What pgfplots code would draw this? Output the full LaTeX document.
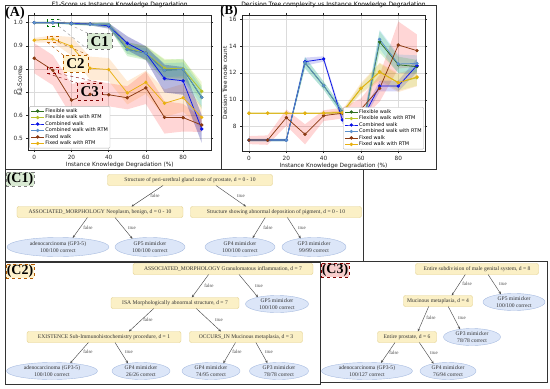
\documentclass[border=0pt]{standalone}
\usepackage{fontspec}
\setmainfont{Liberation Serif}
\newfontfamily\plotfont{DejaVu Sans}
\usepackage{pgfplots}
\pgfplotsset{compat=1.18}
\usetikzlibrary{shapes.geometric,arrows.meta}
\definecolor{flexg}{HTML}{2E6E1E}
\definecolor{flexr}{HTML}{B8C22A}
\definecolor{comb}{HTML}{0A14E6}
\definecolor{combr}{HTML}{5A8FCB}
\definecolor{fixw}{HTML}{8B3A12}
\definecolor{fixr}{HTML}{E8B010}
\definecolor{nodefill}{HTML}{FBF0C6}
\definecolor{nodedraw}{HTML}{E2CF8A}
\definecolor{leaffill}{HTML}{DCE6F8}
\definecolor{leafdraw}{HTML}{A8BCE0}
\definecolor{conefill}{HTML}{D9EAD3}
\definecolor{ctwofill}{HTML}{FFF2CC}
\definecolor{cthreefill}{HTML}{F8CECC}
\pgfplotsset{
  panel/.style={
    scale only axis, anchor=south west,
    xtick={0,20,40,60,80},
    grid=major, grid style={black!14, line width=0.4bp},
    axis line style={black!85, line width=0.5bp},
    tick align=outside, major tick length=2bp, tick style={black!85, line width=0.4bp},
    ticklabel style={font=\plotfont\fontsize{5.8}{6}\selectfont, text=black!85},
    /pgf/number format/assume math mode=true,
    label style={font=\plotfont\fontsize{5.8}{6}\selectfont, text=black!90},
    title style={font=\plotfont\fontsize{6}{7}\selectfont, at={(axis description cs:0.5,1)}, anchor=south, yshift=0.3bp, inner sep=1bp},
    legend style={font=\plotfont\fontsize{5}{5.5}\selectfont, draw=black!30, fill=white, rounded corners=1bp, row sep=-0.6bp, inner sep=1.2bp, nodes={inner sep=0.9bp}},
    legend cell align=left,
    legend image code/.code={\draw[mark repeat=2,mark phase=2,##1] plot coordinates {(0bp,0bp)(6.5bp,0bp)(13bp,0bp)};},
    every axis plot/.append style={line width=0.75bp},
  },
  ln/.style={#1, mark=*, mark size=1.3bp, mark options={solid, fill=#1, draw=#1}},
  bd/.style={draw=none, fill=#1, fill opacity=0.16, forget plot},
}
\tikzset{
 tn/.style={draw=nodedraw, fill=nodefill, rounded corners=2bp, line width=0.4bp, inner sep=0.5bp, minimum height=11bp, font=\fontsize{5.6}{6.2}\selectfont, text=black!80},
 lf/.style={ellipse, draw=leafdraw, fill=leaffill, line width=0.4bp, inner sep=0bp, minimum height=17bp, align=center, font=\fontsize{5.6}{6.2}\selectfont, text=black!80},
 ed/.style={draw=black!70, line width=0.45bp, -{Stealth[length=2.8bp,width=2.4bp]}},
 el/.style={font=\fontsize{5}{5.5}\selectfont, text=black!70, inner sep=0pt},
 plab/.style={font=\bfseries\fontsize{14}{14}\selectfont, inner sep=0.8bp},
}
\begin{document}
\begin{tikzpicture}[x=1bp,y=1bp]
% ---------------- Panel A ----------------
\begin{axis}[panel, at={(28.3bp,238bp)}, width=182.7bp, height=135bp,
  xmin=-3.2, xmax=95, ymin=0.449, ymax=1.033,
  ytick={0.5,0.6,0.7,0.8,0.9,1.0},
  yticklabel style={/pgf/number format/.cd, fixed, fixed zerofill, precision=1},
  title={F1-Score vs Instance Knowledge Degradation},
  xlabel={Instance Knowledge Degradation (\%)},
  ylabel={F1-Score},
  xlabel style={at={(axis description cs:0.5,-0.111)}, anchor=center},
  ylabel style={at={(axis description cs:-0.047,0.5)}, anchor=center},
  legend style={at={(axis description cs:0.006,0.012)}, anchor=south west},
]
\addplot[bd=red] coordinates {(0,0.911)(10,0.859)(20,0.735)(30,0.75)(40,0.738)(50,0.725)(60,0.788)(70,0.66)(80,0.649)(90,0.587)(90,0.527)(80,0.529)(70,0.52)(60,0.648)(50,0.625)(40,0.638)(30,0.63)(20,0.595)(10,0.729)(0,0.781)} -- cycle;
\addplot[bd=orange] coordinates {(0,0.934)(10,0.944)(20,0.938)(30,0.853)(40,0.847)(50,0.746)(60,0.792)(70,0.711)(80,0.735)(90,0.64)(90,0.54)(80,0.615)(70,0.591)(60,0.692)(50,0.646)(40,0.747)(30,0.753)(20,0.858)(10,0.914)(0,0.914)} -- cycle;
\addplot[bd=green!70!black] coordinates {(0,1.004)(10,1.004)(20,1.0)(30,0.999)(40,1.0)(50,0.915)(60,0.898)(70,0.839)(80,0.843)(90,0.727)(90,0.627)(80,0.753)(70,0.749)(60,0.838)(50,0.855)(40,0.98)(30,0.987)(20,0.99)(10,0.996)(0,0.996)} -- cycle;
\addplot[bd=lime!80!black] coordinates {(0,1.003)(10,1.003)(20,1.001)(30,0.999)(40,1.0)(50,0.915)(60,0.9)(70,0.843)(80,0.84)(90,0.743)(90,0.663)(80,0.76)(70,0.763)(60,0.84)(50,0.865)(40,0.98)(30,0.989)(20,0.993)(10,0.997)(0,0.997)} -- cycle;
\addplot[draw=none, fill=blue!55!black, fill opacity=0.28, forget plot] coordinates {(0,1.003)(10,1.003)(20,1.001)(30,1.0)(40,0.998)(50,0.941)(60,0.898)(70,0.818)(80,0.808)(90,0.60)(90,0.48)(80,0.688)(70,0.698)(60,0.838)(50,0.881)(40,0.974)(30,0.988)(20,0.993)(10,0.997)(0,0.997)} -- cycle;
\addplot[bd=cyan!80!blue] coordinates {(0,1.003)(10,1.003)(20,0.999)(30,0.999)(40,1.0)(50,0.905)(60,0.888)(70,0.824)(80,0.828)(90,0.717)(90,0.637)(80,0.768)(70,0.764)(60,0.848)(50,0.865)(40,0.98)(30,0.987)(20,0.991)(10,0.997)(0,0.997)} -- cycle;
\addplot[ln=flexg] coordinates {(0,1.0)(10,1.0)(20,0.995)(30,0.993)(40,0.99)(50,0.885)(60,0.868)(70,0.794)(80,0.798)(90,0.677)};
\addlegendentry{Flexible walk}
\addplot[ln=flexr] coordinates {(0,1.0)(10,1.0)(20,0.997)(30,0.994)(40,0.99)(50,0.89)(60,0.87)(70,0.803)(80,0.80)(90,0.703)};
\addlegendentry{Flexible walk with RTM}
\addplot[ln=comb] coordinates {(0,1.0)(10,1.0)(20,0.997)(30,0.994)(40,0.986)(50,0.911)(60,0.868)(70,0.758)(80,0.748)(90,0.54)};
\addlegendentry{Combined walk}
\addplot[ln=combr] coordinates {(0,1.0)(10,1.0)(20,0.995)(30,0.993)(40,0.99)(50,0.885)(60,0.868)(70,0.794)(80,0.798)(90,0.677)};
\addlegendentry{Combined walk with RTM}
\addplot[ln=fixw] coordinates {(0,0.846)(10,0.794)(20,0.665)(30,0.69)(40,0.688)(50,0.675)(60,0.718)(70,0.59)(80,0.589)(90,0.557)};
\addlegendentry{Fixed walk}
\addplot[ln=fixr] coordinates {(0,0.924)(10,0.929)(20,0.898)(30,0.803)(40,0.797)(50,0.696)(60,0.742)(70,0.651)(80,0.675)(90,0.59)};
\addlegendentry{Fixed walk with RTM}
% annotations
\draw[dashed, draw=green!45!black, line width=0.4bp] (axis cs:7,1.015) rectangle (axis cs:13,0.985);
\draw[dashed, draw=black!45, line width=0.4bp] (axis cs:13,1.015) -- (axis cs:28.5,0.955);
\draw[dashed, draw=black!45, line width=0.4bp] (axis cs:13,0.985) -- (axis cs:28.5,0.886);
\draw[dashed, draw=black!55, fill=conefill, line width=0.4bp] (axis cs:28.5,0.955) rectangle (axis cs:42,0.886);
\node[font=\bfseries\fontsize{15}{15}\selectfont] at (axis cs:35.2,0.919) {C1};
\draw[dashed, draw=orange!80!black, line width=0.4bp] (axis cs:7,0.943) rectangle (axis cs:13,0.915);
\draw[dashed, draw=orange!70!black, line width=0.4bp] (axis cs:7,0.915) -- (axis cs:15.5,0.86);
\draw[dashed, draw=orange!70!black, line width=0.4bp] (axis cs:13,0.915) -- (axis cs:29,0.86);
\draw[dashed, draw=orange!70!black, fill=ctwofill, line width=0.4bp] (axis cs:15.5,0.86) rectangle (axis cs:29,0.787);
\node[font=\bfseries\fontsize{15}{15}\selectfont] at (axis cs:22.2,0.822) {C2};
\draw[dashed, draw=red!60!black, line width=0.4bp] (axis cs:7,0.808) rectangle (axis cs:13,0.78);
\draw[dashed, draw=red!50!black, line width=0.4bp] (axis cs:7,0.78) -- (axis cs:23,0.739);
\draw[dashed, draw=red!50!black, line width=0.4bp] (axis cs:13,0.78) -- (axis cs:36.6,0.739);
\draw[dashed, draw=red!50!black, fill=cthreefill, line width=0.4bp] (axis cs:23,0.739) rectangle (axis cs:36.6,0.665);
\node[font=\bfseries\fontsize{15}{15}\selectfont] at (axis cs:29.8,0.701) {C3};
\end{axis}
% ---------------- Panel B ----------------
\begin{axis}[panel, at={(242bp,237bp)}, width=183bp, height=136bp,
  xmin=-3.75, xmax=94.3, ymin=6.19, ymax=16.3,
  ytick={8,10,12,14,16},
  title={Decision Tree complexity vs Instance Knowledge Degradation},
  xlabel={Instance Knowledge Degradation (\%)},
  ylabel={Decision Tree node count},
  xlabel style={at={(axis description cs:0.5,-0.11)}, anchor=center},
  ylabel style={at={(axis description cs:-0.093,0.5)}, anchor=center},
  legend style={at={(axis description cs:0.994,0.012)}, anchor=south east},
]
\addplot[bd=red] coordinates {(0,7.3)(10,7.35)(20,9.27)(30,8.18)(40,9.22)(50,9.4)(60,10.1)(70,11.85)(80,15.82)(90,14.85)(90,12.45)(80,12.32)(70,9.85)(60,8.5)(50,8.6)(40,8.42)(30,6.68)(20,8.07)(10,6.65)(0,6.7)} -- cycle;
\addplot[bd=orange] coordinates {(0,9.05)(10,9.05)(20,9.05)(30,9.05)(40,9.05)(50,9.25)(60,11.25)(70,12.75)(80,11.97)(90,12.4)(90,11.0)(80,10.57)(70,11.35)(60,10.45)(50,8.85)(40,8.95)(30,8.95)(20,8.95)(10,8.95)(0,8.95)} -- cycle;
\addplot[bd=green!70!black] coordinates {(0,7.1)(10,7.1)(20,7.1)(30,13.15)(40,11.35)(50,9.4)(60,7.65)(70,15.1)(80,13.2)(90,12.96)(90,11.96)(80,12.0)(70,13.5)(60,7.05)(50,8.8)(40,10.75)(30,12.35)(20,6.9)(10,6.9)(0,6.9)} -- cycle;
\addplot[bd=lime!80!black] coordinates {(0,9.05)(10,9.05)(20,9.05)(30,9.05)(40,9.05)(50,9.15)(60,11.13)(70,12.69)(80,11.87)(90,12.24)(90,11.04)(80,10.67)(70,11.49)(60,10.53)(50,8.95)(40,8.95)(30,8.95)(20,8.95)(10,8.95)(0,8.95)} -- cycle;
\addplot[bd=blue!80!black] coordinates {(0,7.1)(10,7.1)(20,7.1)(30,13.13)(40,13.23)(50,8.8)(60,8.7)(70,11.42)(80,11.42)(90,13.05)(90,12.05)(80,10.62)(70,10.62)(60,8.1)(50,8.2)(40,12.83)(30,12.53)(20,6.9)(10,6.9)(0,6.9)} -- cycle;
\addplot[bd=cyan!80!blue] coordinates {(0,7.1)(10,7.1)(20,7.1)(30,13.2)(40,11.35)(50,9.4)(60,7.65)(70,15.19)(80,13.36)(90,13.3)(90,12.1)(80,11.96)(70,13.79)(60,7.05)(50,8.8)(40,10.75)(30,12.3)(20,6.9)(10,6.9)(0,6.9)} -- cycle;
\addplot[ln=flexg] coordinates {(0,7)(10,7)(20,7)(30,12.75)(40,11.05)(50,9.1)(60,7.35)(70,14.3)(80,12.6)(90,12.46)};
\addlegendentry{Flexible walk}
\addplot[ln=flexr] coordinates {(0,9)(10,9)(20,9)(30,9)(40,9)(50,9.05)(60,10.83)(70,12.09)(80,11.27)(90,11.64)};
\addlegendentry{Flexible walk with RTM}
\addplot[ln=comb] coordinates {(0,7)(10,7)(20,7)(30,12.83)(40,13.03)(50,8.5)(60,8.4)(70,11.02)(80,11.02)(90,12.55)};
\addlegendentry{Combined walk}
\addplot[ln=combr] coordinates {(0,7)(10,7)(20,7)(30,12.75)(40,11.05)(50,9.1)(60,7.35)(70,14.49)(80,12.66)(90,12.7)};
\addlegendentry{Combined walk with RTM}
\addplot[ln=fixw] coordinates {(0,7)(10,7)(20,8.67)(30,7.43)(40,8.82)(50,9.0)(60,9.3)(70,10.85)(80,14.07)(90,13.65)};
\addlegendentry{Fixed walk}
\addplot[ln=fixr] coordinates {(0,9)(10,9)(20,9)(30,9)(40,9)(50,9.05)(60,10.85)(70,12.05)(80,11.27)(90,11.7)};
\addlegendentry{Fixed walk with RTM}
\end{axis}
% ---------------- frames ----------------
\draw[black!80, line width=0.7bp] (5,383) rectangle (221,219);
\draw[black!80, line width=0.7bp] (221,383) rectangle (436,219);
\draw[black!80, line width=0.7bp] (5,219) rectangle (363,127);
\draw[black!80, line width=0.7bp] (5,126) rectangle (320,4);
\draw[black!80, line width=0.7bp] (320,127) rectangle (547,6);
\node[plab] at (15,374.5) {(A)};
\node[plab, font=\bfseries\fontsize{13}{13}\selectfont] at (229,377) {(B)};
\node[plab, fill=conefill, draw=black!50, dashed, line width=0.4bp] at (20,209) {(C1)};
\node[plab, fill=ctwofill, draw=orange!70!black, dashed, line width=0.4bp] at (20,117) {(C2)};
\node[plab, fill=cthreefill, draw=red!50!black, dashed, line width=0.4bp] at (335,118) {(C3)};
% ---------------- C1 tree ----------------
\node[tn, minimum width=165bp] (a0) at (190,208) {Structure of peri-urethral gland zone of prostate, d = 0 - 10};
\node[tn, minimum width=166bp] (a1) at (100,176) {ASSOCIATED\_MORPHOLOGY Neoplasm, benign, d = 0 - 10};
\node[tn, minimum width=171bp] (a2) at (276,176) {Structure showing abnormal deposition of pigment, d = 0 - 10};
\node[lf, minimum width=102bp, minimum height=19bp] (a3) at (58,141) {adenocarcinoma (GP3-5)\\100/100 correct};
\node[lf, minimum width=70bp, minimum height=19bp] (a4) at (150,141) {GP5 mimicker\\100/100 correct};
\node[lf, minimum width=70bp, minimum height=19bp] (a5) at (240,141) {GP4 mimicker\\100/100 correct};
\node[lf, minimum width=64bp, minimum height=19bp] (a6) at (314,141) {GP3 mimicker\\99/99 correct};
\draw[ed] (163,202.5) -- (131.5,181.5);
\draw[ed] (216,202.5) -- (246,181.5);
\draw[ed] (87.4,170.5) -- (72.7,150.1);
\draw[ed] (115,170.5) -- (132.5,149.2);
\draw[ed] (265.2,170.5) -- (252.6,149.9);
\draw[ed] (287.4,170.5) -- (300.7,149.6);
\node[el] at (155,192) {false}; \node[el] at (241,192) {true};
\node[el] at (88,160) {false}; \node[el] at (132,160) {true};
\node[el] at (268,160) {false}; \node[el] at (302,160) {true};
% ---------------- C2 tree ----------------
\node[tn, minimum width=180bp] (b0) at (223,119) {ASSOCIATED\_MORPHOLOGY Granulomatous inflammation, d = 7};
\node[tn, minimum width=128bp] (b1) at (175,85) {ISA Morphologically abnormal structure, d = 7};
\node[lf, minimum width=63bp] (b2) at (277,84) {GP5 mimicker\\100/100 correct};
\node[tn, minimum width=154bp] (b3) at (104,51) {EXISTENCE Sub-Immunohistochemistry procedure, d = 1};
\node[tn, minimum width=113bp] (b4) at (246,51) {OCCURS\_IN Mucinous metaplasia, d = 3};
\node[lf, minimum width=91bp] (b5) at (52,17) {adenocarcinoma (GP3-5)\\100/100 correct};
\node[lf, minimum width=58bp] (b6) at (141,17) {GP4 mimicker\\26/26 correct};
\node[lf, minimum width=58bp] (b7) at (211,17) {GP4 mimicker\\74/95 correct};
\node[lf, minimum width=59bp] (b8) at (279,17) {GP3 mimicker\\78/78 correct};
\draw[ed] (208.6,113.5) -- (191.8,90.5);
\draw[ed] (239,113.5) -- (258,90.8);
\draw[ed] (153.7,79.5) -- (128.9,56.5);
\draw[ed] (196.3,79.5) -- (221,56.5);
\draw[ed] (88.4,45.5) -- (70.2,24.8);
\draw[ed] (115,45.5) -- (128,24.6);
\draw[ed] (235.5,45.5) -- (223.3,24.7);
\draw[ed] (255.9,45.5) -- (267.5,24.8);
\node[el] at (209,102) {false}; \node[el] at (259,102) {true};
\node[el] at (148,68) {false}; \node[el] at (219,68) {true};
\node[el] at (88,36) {false}; \node[el] at (129,36) {true};
\node[el] at (237,36) {false}; \node[el] at (269,36) {true};
% ---------------- C3 tree ----------------
\node[tn, minimum width=123bp] (c0) at (477,119) {Entire subdivision of male genital system, d = 8};
\node[tn, minimum width=69bp] (c1) at (438,87) {Mucinous metaplasia, d = 4};
\node[lf, minimum width=62bp] (c2) at (514,86) {GP5 mimicker\\100/100 correct};
\node[tn, minimum width=59bp] (c3) at (407,51) {Entire prostate, d = 6};
\node[lf, minimum width=57bp] (c4) at (472,51) {GP3 mimicker\\78/78 correct};
\node[lf, minimum width=91bp] (c5) at (367,17) {adenocarcinoma (GP3-5)\\100/127 correct};
\node[lf, minimum width=56bp] (c6) at (448,17) {GP4 mimicker\\76/94 correct};
\draw[ed] (465.3,113.5) -- (451.7,92.5);
\draw[ed] (488.1,113.5) -- (501,93.7);
\draw[ed] (428.7,81.5) -- (417.9,56.5);
\draw[ed] (448.2,81.5) -- (460.1,58.7);
\draw[ed] (395,45.5) -- (381,25.1);
\draw[ed] (419.3,45.5) -- (433.6,24.3);
\node[el] at (467,104) {false}; \node[el] at (503,104) {true};
\node[el] at (431,70) {false}; \node[el] at (462,70) {true};
\node[el] at (394,35) {false}; \node[el] at (434,35) {true};
\pgfresetboundingbox
\path (0,0) rectangle (550,388);
\end{tikzpicture}
\end{document}
